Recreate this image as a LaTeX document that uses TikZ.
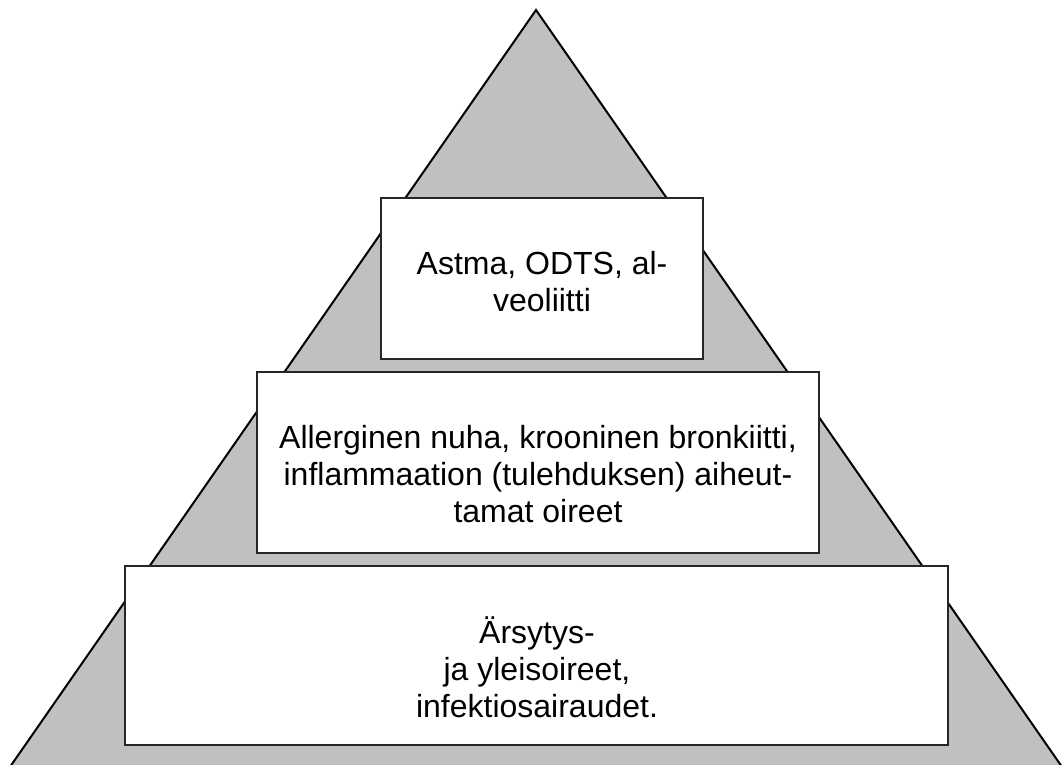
\documentclass[tikz,border=0pt]{standalone}
\usepackage{fontspec}
\setmainfont{Liberation Sans}
\usetikzlibrary{positioning}
\definecolor{pyramidgray}{RGB}{192,192,192}
\begin{document}
\begin{tikzpicture}[x=0.75pt,y=-0.75pt]
\tikzstyle{every node}+=[inner sep=0pt, outer sep=0pt]
\tikzstyle{levelbox}=[draw=black!85, fill=white, line width=1.1pt, rectangle]
\tikzstyle{leveltext}=[anchor=base, align=center, font=\fontsize{24}{27.5}\selectfont]
\clip (0,0) rectangle (1062,764);
\filldraw [black, fill=pyramidgray, line width=1.5pt] (536,10) -- (-13,800) -- (1085,800) -- cycle;
\node [levelbox, minimum width=241.5pt, minimum height=120.75pt] (astma) at (542,278.5) {};
\node [leveltext] (astmatext) at (542,311) {Astma, ODTS, al-\\veoliitti};
\node [levelbox, minimum width=421.5pt, minimum height=135.75pt] (allergia) at (538,462.5) {};
\node [leveltext] (allergiatext) at (538,522) {Allerginen nuha, krooninen bronkiitti,\\inflammaation (tulehduksen) aiheut-\\tamat oireet};
\node [levelbox, minimum width=617.25pt, minimum height=134.25pt] (arsytys) at (536.5,655.5) {};
\node [leveltext] (arsytystext) at (537,717) {Ärsytys-\\ja yleisoireet,\\infektiosairaudet.};
\end{tikzpicture}
\end{document}
